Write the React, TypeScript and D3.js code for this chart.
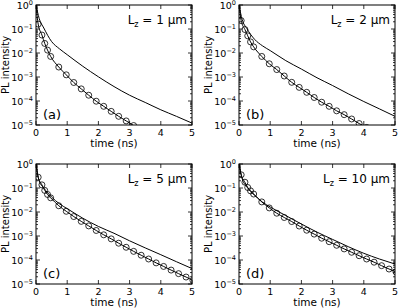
import React from 'react';
import * as d3 from 'd3';

// sample times of the circles (ns) and of the model curves
const circleTimes = [0.07, 0.19, 0.28, 0.37, 0.47, 0.73, 0.97, 1.21, 1.45, 1.69, 1.93, 2.17, 2.41, 2.65, 2.89, 3.13, 3.37, 3.61, 3.85, 4.09, 4.33, 4.57, 4.81, 5.03];
const modelTimes = [0, 0.1, 0.25, 0.5, 0.75, 1, 1.5, 2, 2.5, 3, 3.5, 4, 4.5, 5];

// measured PL intensity (circles)
const dataA = [0.16, 0.056, 0.025, 0.0132, 0.0072, 0.0026, 0.00123, 0.00059, 0.00032, 0.000174, 9.8e-5, 6.0e-5, 3.7e-5, 2.3e-5, 1.48e-5, 9.5e-6];
const dataB = [0.224, 0.095, 0.052, 0.029, 0.018, 0.0072, 0.00355, 0.00204, 0.0011, 0.0006, 0.00037, 0.00023, 0.00014, 8.9e-5, 6.0e-5, 3.9e-5, 2.7e-5, 1.78e-5, 1.15e-5, 7.9e-6];
const dataC = [0.282, 0.135, 0.0794, 0.0537, 0.0389, 0.0182, 0.0107, 0.00646, 0.00407, 0.00263, 0.0017, 0.00112, 0.000759, 0.000501, 0.000339, 0.000229, 0.000158, 0.00011, 7.6e-5, 5.4e-5, 3.8e-5, 2.7e-5, 1.95e-5, 1.4e-5];
const dataD = [0.355, 0.174, 0.105, 0.076, 0.056, 0.0263, 0.0148, 0.0089, 0.0059, 0.004, 0.0026, 0.00174, 0.0012, 0.00081, 0.00058, 0.00041, 0.00029, 0.00021, 0.000151, 0.00011, 8.1e-5, 5.8e-5, 4.2e-5, 3.2e-5];

// model curves (upper solid line)
const modelA = [1, 0.28, 0.11, 0.030, 0.015, 0.0085, 0.0028, 0.00102, 0.0004, 0.000174, 8.7e-5, 4.3e-5, 2.3e-5, 1.2e-5];
const modelB = [1, 0.25, 0.105, 0.037, 0.02, 0.0126, 0.0048, 0.00214, 0.00093, 0.00044, 0.0002, 9.5e-5, 4.7e-5, 2.3e-5];
const modelC = [1, 0.2, 0.1, 0.042, 0.022, 0.0138, 0.0055, 0.0025, 0.0013, 0.00063, 0.00032, 0.000166, 8.5e-5, 4.4e-5];
const modelD = [1, 0.25, 0.112, 0.05, 0.026, 0.0162, 0.0071, 0.00316, 0.00145, 0.00072, 0.00036, 0.00019, 0.00011, 6.8e-5];

const thickness = ['1', '2', '5', '10'];
const panelNames = ['(a)', '(b)', '(c)', '(d)'];
const xTicks = [0, 1, 2, 3, 4, 5];
const yExponents = [0, -1, -2, -3, -4, -5];

const W = 156;
const H = 120;
const font = 'DejaVu Sans, sans-serif';

type P = { t: number; v: number };

function Panel({ left, top, data, model, lz, name, id }: { left: number; top: number; data: number[]; model: number[]; lz: string; name: string; id: string }) {
  const x = d3.scaleLinear().domain([0, 5]).range([0, W]);
  const y = d3.scaleLog().domain([1e-5, 1]).range([H, 0]);
  const line = d3.line<P>().x(d => x(d.t)).y(d => y(d.v)).curve(d3.curveMonotoneX);

  const pts: P[] = data.map((v, i) => ({ t: circleTimes[i], v }));
  const fit: P[] = [{ t: 0, v: 1 }, ...pts];
  const up: P[] = model.map((v, i) => ({ t: modelTimes[i], v }));
  const minor = y.ticks().filter(v => Math.abs(Math.log10(v) - Math.round(Math.log10(v))) > 1e-6);

  return (
    <g transform={`translate(${left},${top})`} fontFamily={font}>
      <defs>
        <clipPath id={id}><rect width={W} height={H} /></clipPath>
      </defs>
      <g clipPath={`url(#${id})`} fill="none" stroke="#000">
        <path d={line(up) || ''} strokeWidth={1} />
        <path d={line(fit) || ''} strokeWidth={1} />
        {pts.map((p, i) => (
          <circle key={i} cx={x(p.t)} cy={y(p.v)} r={3} strokeWidth={0.8} />
        ))}
      </g>
      <g stroke="#000" strokeWidth={0.8}>
        {xTicks.map(t => (
          <g key={t}>
            <line x1={x(t)} x2={x(t)} y1={H} y2={H - 4} />
            <line x1={x(t)} x2={x(t)} y1={0} y2={4} />
          </g>
        ))}
        {yExponents.map(e => (
          <g key={e}>
            <line x1={0} x2={4} y1={y(Math.pow(10, e))} y2={y(Math.pow(10, e))} />
            <line x1={W} x2={W - 4} y1={y(Math.pow(10, e))} y2={y(Math.pow(10, e))} />
          </g>
        ))}
        {minor.map((v, i) => (
          <g key={i}>
            <line x1={0} x2={2} y1={y(v)} y2={y(v)} />
            <line x1={W} x2={W - 2} y1={y(v)} y2={y(v)} />
          </g>
        ))}
      </g>
      <rect width={W} height={H} fill="none" stroke="#000" strokeWidth={1} />
      {xTicks.map(t => (
        <text key={t} x={x(t)} y={H + 11} fontSize={9.5} textAnchor="middle">{t}</text>
      ))}
      {yExponents.map(e => (
        <text key={e} x={-3} y={y(Math.pow(10, e)) + 4} fontSize={9.5} textAnchor="end">
          <tspan>10</tspan>
          <tspan dy={-4} fontSize={6.5}>{e === 0 ? '0' : '\u2212' + Math.abs(e)}</tspan>
        </text>
      ))}
      <text x={W / 2} y={H + 21.5} fontSize={10.5} textAnchor="middle">time (ns)</text>
      <text transform={`translate(${-27},${H / 2}) rotate(-90)`} fontSize={10} textAnchor="middle">PL intensity</text>
      <text x={W - 5} y={19} fontSize={12} textAnchor="end">
        <tspan>L</tspan>
        <tspan dy={3} fontSize={8}>z</tspan>
        <tspan dy={-3}>{` = ${lz} \u03bcm`}</tspan>
      </text>
      <text x={7} y={H - 6} fontSize={13}>{name}</text>
    </g>
  );
}

export default function App() {
  const datas = [dataA, dataB, dataC, dataD];
  const models = [modelA, modelB, modelC, modelD];
  const lefts = [36, 239, 36, 239];
  const tops = [5, 5, 164, 164];
  return (
    <svg width={399} height={308} style={{ position: 'absolute', left: 0, top: 0, background: '#fff' }}>
      {datas.map((d, i) => (
        <Panel key={i} id={`clip${i}`} left={lefts[i]} top={tops[i]} data={d} model={models[i]} lz={thickness[i]} name={panelNames[i]} />
      ))}
    </svg>
  );
}
